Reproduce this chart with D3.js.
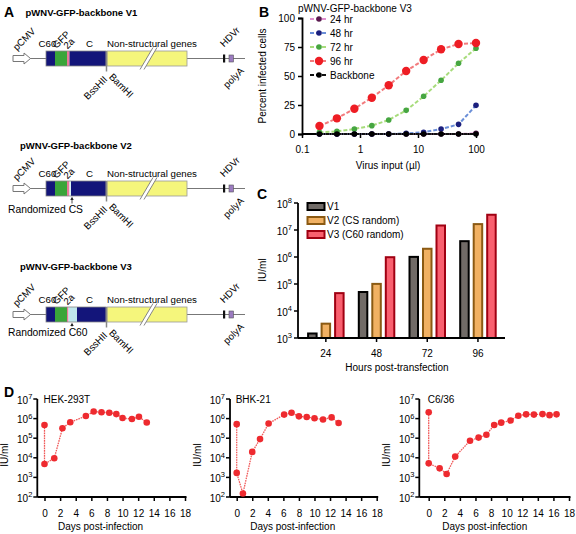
<!DOCTYPE html>
<html><head><meta charset="utf-8">
<script src="https://cdn.jsdelivr.net/npm/d3@7"></script>
<style>body{margin:0;background:#fff}svg{display:block;font-family:"Liberation Sans",Arial,sans-serif}</style>
</head><body>
<script>
// ---------- DATA ----------
// Panel B
const bDoses = [0.2, 0.4, 0.8, 1.6, 3.125, 6.25, 12.5, 25, 50, 100];
const b24 = [0, 0, 0, 0, 0, 0, 0, 0, 0, 0.6];
const b48 = [0, 0, 0, 0, 0, 0.5, 1.5, 4.3, 8.3, 24.7];
const b72 = [1.4, 2.3, 4.3, 7.2, 12.1, 20.4, 32.5, 46.3, 61, 73.9];
const b96 = [6.9, 13.5, 21.8, 31.3, 42, 54.3, 63.8, 73, 77.6, 78.4];
const bBackbone = [0, 0, 0, 0, 0, 0, 0, 0, 0, 0];
const bSeriesNames = ["24 hr", "48 hr", "72 hr", "96 hr", "Backbone"];
const bYTicks = [0, 25, 50, 75, 100];
const bXTicks = [0.1, 1, 10, 100];
// Panel C
const cHours = ["24", "48", "72", "96"];
const cSeriesNames = ["V1", "V2 (CS random)", "V3 (C60 random)"];
const cV1 = [1.6e3, 5.5e4, 1.1e6, 4.2e6];
const cV2 = [3.7e3, 1.1e5, 2.2e6, 1.8e7];
const cV3 = [5e4, 1.07e6, 1.6e7, 4e7];
const cYExp = [3, 4, 5, 6, 7, 8];
// Panel D
const dNames = ["HEK-293T", "BHK-21", "C6/36"];
const dHekDays = [0, 0, 1.25, 2.3, 3.3, 5.3, 6.3, 7.3, 8.3, 9.2, 10, 11.2, 12.1, 13.1];
const dHekVals = [4.7e5, 4.8e3, 9.5e3, 3.2e5, 6.5e5, 1.35e6, 2.3e6, 2.1e6, 2e6, 1.7e6, 1.07e6, 9.5e5, 1.25e6, 6.3e5];
const dBhkDays = [0, 0, 0.8, 2.0, 3.0, 4.1, 6.1, 7.05, 8.0, 9.0, 10.0, 11.1, 12.2, 13.1];
const dBhkVals = [5.2e5, 1.7e3, 1.5e2, 2e4, 9e4, 5.6e5, 1.6e6, 2e6, 1.3e6, 1.2e6, 1.05e6, 9e5, 1.15e6, 6e5];
const dC636Days = [0, 0, 1.4, 2.3, 3.4, 5.3, 6.4, 7.4, 8.4, 9.3, 10.5, 11.5, 12.5, 13.5, 14.6, 15.5, 16.4];
const dC636Vals = [2.1e6, 5.2e3, 2.9e3, 1.5e3, 1.15e4, 7.4e4, 1.07e5, 1.5e5, 4.7e5, 6.2e5, 8e5, 1.4e6, 1.65e6, 1.6e6, 1.7e6, 1.5e6, 1.65e6];
const dXTicks = [0, 2, 4, 6, 8, 10, 12, 14, 16, 18];
const dYExp = [2, 3, 4, 5, 6, 7];

// ---------- SETUP ----------
const W = 576, H = 534;
const svg = d3.select("body").append("svg").attr("width", W).attr("height", H);
svg.append("rect").attr("width", W).attr("height", H).attr("fill", "#fff");
const FS = 10;

function letter(t, x, y) {
  svg.append("text").attr("x", x).attr("y", y).attr("font-size", 14).attr("font-weight", "bold").text(t);
}
function powLabel(g, x, y, exp) {
  const t = g.append("text").attr("x", x).attr("y", y).attr("text-anchor", "end").attr("font-size", FS).attr("dy", "0.35em");
  t.append("tspan").text("10");
  t.append("tspan").attr("dy", -4.5).attr("font-size", 7.5).text(exp);
}

// ---------- PANEL A ----------
letter("A", 4, 17);
const titles = [["pWNV-GFP-backbone V1", 25.5, 16, 58.5, "V1"], ["pWNV-GFP-backbone V2", 20, 149, 188.5, "V2"], ["pWNV-GFP-backbone V3", 20, 270, 314.5, "V3"]];
titles.forEach(([t, tx, ty, y, kind]) => {
  svg.append("text").attr("x", tx).attr("y", ty).attr("font-size", 9.5).attr("font-weight", "bold").text(t);
  const g = svg.append("g");
  const hh = 7.5;
  const AF = 9.7;
  g.append("line").attr("x1", 30).attr("x2", 46).attr("y1", y).attr("y2", y).attr("stroke", "#777").attr("stroke-width", 1);
  g.append("line").attr("x1", 187).attr("x2", 245).attr("y1", y).attr("y2", y).attr("stroke", "#777").attr("stroke-width", 1);
  g.append("path").attr("d", `M13,${y-3}L24,${y-3}L24,${y-5.5}L30.5,${y}L24,${y+5.5}L24,${y+3}L13,${y+3}Z`)
    .attr("fill", "#fff").attr("stroke", "#777").attr("stroke-width", 1);
  const segs = [[46, 55, "#13157a"], [55, 67, "#3aa53a"]];
  if (kind === "V1") segs.push([67, 69.5, "#e9789a"], [69.5, 106, "#13157a"]);
  if (kind === "V2") segs.push([67, 69.5, "#e9789a"], [69.5, 71, "#d9f2f4"], [71, 106, "#13157a"]);
  if (kind === "V3") segs.push([67, 68.5, "#e9789a"], [68.5, 77, "#bfe7ec"], [77, 106, "#13157a"]);
  segs.forEach(([a, b, c]) => g.append("rect").attr("x", a).attr("y", y - hh).attr("width", b - a).attr("height", 2 * hh).attr("fill", c));
  g.append("rect").attr("x", 46).attr("y", y - hh).attr("width", 60).attr("height", 2 * hh).attr("fill", "none").attr("stroke", "#888").attr("stroke-width", 0.8);
  g.append("rect").attr("x", 107).attr("y", y - hh).attr("width", 80).attr("height", 2 * hh).attr("fill", "#f5f67c").attr("stroke", "#999").attr("stroke-width", 0.8);
  g.append("line").attr("x1", 106.5).attr("x2", 106.5).attr("y1", y - hh).attr("y2", y + 13).attr("stroke", "#888").attr("stroke-width", 1.5);
  // break marks
  g.append("line").attr("x1", 142).attr("y1", y + 11).attr("x2", 155).attr("y2", y - 11).attr("stroke", "#fff").attr("stroke-width", 3.5);
  g.append("line").attr("x1", 140).attr("y1", y + 11).attr("x2", 153).attr("y2", y - 11).attr("stroke", "#777").attr("stroke-width", 0.9);
  g.append("line").attr("x1", 144).attr("y1", y + 11).attr("x2", 157).attr("y2", y - 11).attr("stroke", "#777").attr("stroke-width", 0.9);
  g.append("rect").attr("x", 223).attr("y", y - 4).attr("width", 2.2).attr("height", 8).attr("fill", "#111");
  g.append("rect").attr("x", 229).attr("y", y - 3.5).attr("width", 4.5).attr("height", 7).attr("fill", "#9b7bc0").attr("stroke", "#555").attr("stroke-width", 0.6);
  const lab = (t, x, yy, rot, anchor) => g.append("text").attr("font-size", AF).attr("text-anchor", anchor || "start")
      .attr("transform", `translate(${x},${yy}) rotate(${rot || 0})`).text(t);
  lab("pCMV", 17, y - 7.5, -45);
  lab("C60", 38.5, y - 12);
  lab("GFP", 56.5, y - 9.5, -45);
  lab("2a", 67.5, y - 9, -45);
  lab("C", 86, y - 12);
  lab("Non-structural genes", 107, y - 12);
  lab("HDVr", 224, y - 11, -45);
  lab("BssHII", 108, y + 21.5, -45, "end");
  lab("BamHI", 108.5, y + 19, 45);
  lab("polyA", 244.5, y + 13, -45, "end");
  if (kind !== "V1") {
    const ly = kind === "V2" ? y + 24 : y + 21;
    lab(kind === "V2" ? "Randomized CS" : "Randomized C60", 8, ly).attr("font-size", 10.3);
    g.append("line").attr("x1", 72).attr("x2", 72).attr("y1", ly - 9).attr("y2", y + hh + 2).attr("stroke", "#222").attr("stroke-width", 0.8);
    g.append("path").attr("d", `M70.3,${y+hh+4}L72,${y+hh+0.8}L73.7,${y+hh+4}Z`).attr("fill", "#222");
  }
});

// ---------- PANEL B ----------
letter("B", 259, 17);
svg.append("text").attr("x", 298).attr("y", 12).attr("font-size", FS).text("pWNV-GFP-backbone V3");
const bx = d3.scaleLog().domain([0.1, 100]).range([302, 476]);
const by = d3.scaleLinear().domain([0, 100]).range([134, 18]);
const gB = svg.append("g");
gB.append("g").attr("transform", "translate(0,134)").call(d3.axisBottom(bx).tickValues(bXTicks).tickFormat(d3.format("~g")).tickSizeOuter(0).tickSize(4))
  .call(a => { a.select(".domain").attr("stroke-width", 1.8).attr("d", "M302,0H478"); a.selectAll("text").attr("font-size", FS).attr("font-family", null).attr("dy", "1.2em"); a.selectAll("line").attr("stroke-width", 1.5); });
gB.append("g").attr("transform", "translate(302,0)").call(d3.axisLeft(by).tickValues(bYTicks).tickSizeOuter(0).tickSize(4))
  .call(a => { a.select(".domain").attr("stroke-width", 1.8); a.selectAll("text").attr("font-size", FS).attr("font-family", null); a.selectAll("line").attr("stroke-width", 1.5); });
svg.append("text").attr("transform", "translate(266,76) rotate(-90)").attr("text-anchor", "middle").attr("font-size", FS).text("Percent infected cells");
svg.append("text").attr("x", 388).attr("y", 169).attr("text-anchor", "middle").attr("font-size", FS).text("Virus input (µl)");
const bSeries = [
  { name: bSeriesNames[0], vals: b24, line: "#e08fcf", dot: "#5a1a4f", r: 2.8 },
  { name: bSeriesNames[1], vals: b48, line: "#6b8fd8", dot: "#1b1f7d", r: 2.8 },
  { name: bSeriesNames[2], vals: b72, line: "#a8dc7c", dot: "#46a641", r: 2.8 },
  { name: bSeriesNames[3], vals: b96, line: "#f27b7d", dot: "#ee1d24", r: 4.2 },
  { name: bSeriesNames[4], vals: bBackbone, line: "#111", dot: "#000", r: 2.8 }
];
const bLine = d3.line().x(d => bx(d[0])).y(d => by(d[1]));
bSeries.forEach((s, i) => {
  const pts = bDoses.map((d, j) => [d, s.vals[j]]);
  gB.append("path").attr("d", bLine(pts)).attr("fill", "none").attr("stroke", s.line).attr("stroke-width", 2).attr("stroke-dasharray", "4,2");
  gB.selectAll(null).data(pts).join("circle").attr("cx", d => bx(d[0])).attr("cy", d => by(d[1])).attr("r", s.r).attr("fill", s.dot);
  const ly = 19 + i * 14;
  gB.append("line").attr("x1", 310).attr("x2", 327).attr("y1", ly).attr("y2", ly).attr("stroke", s.line).attr("stroke-width", 2).attr("stroke-dasharray", "4,2");
  gB.append("circle").attr("cx", 319).attr("cy", ly).attr("r", s.r).attr("fill", s.dot);
  gB.append("text").attr("x", 330).attr("y", ly).attr("dy", "0.35em").attr("font-size", FS).text(s.name);
});

// ---------- PANEL C ----------
letter("C", 257, 199);
const cx0 = d3.scaleBand().domain(cHours).range([300.5, 503.3]);
const cx1 = d3.scaleBand().domain(cSeriesNames).range([-18.75, 18.75]).paddingInner(0.222);
const cy = d3.scaleLog().domain([1e3, 1e8]).range([338, 203]);
const cStyles = [{ fill: "#716b67", stroke: "#000" }, { fill: "#f1b163", stroke: "#8b5a13" }, { fill: "#f9606f", stroke: "#a00012" }];
const cData = [cV1, cV2, cV3];
const gC = svg.append("g");
cHours.forEach((h, i) => {
  const c = cx0(h) + cx0.bandwidth() / 2;
  cSeriesNames.forEach((s, k) => {
    const v = cData[k][i];
    const x = c + cx1(s);
    gC.append("rect").attr("x", x + 1).attr("width", cx1.bandwidth() - 2).attr("y", cy(v) + 1).attr("height", cy(1e3) - cy(v) - 1)
      .attr("fill", cStyles[k].fill).attr("stroke", cStyles[k].stroke).attr("stroke-width", 2);
  });
});
gC.append("g").attr("transform", "translate(0,338)").call(d3.axisBottom(cx0).tickSize(4).tickSizeOuter(0))
  .call(a => { a.select(".domain").attr("stroke-width", 1.8).attr("d", "M298,0H505"); a.selectAll("text").attr("font-size", FS).attr("font-family", null).attr("dy", "1.2em"); a.selectAll("line").attr("stroke-width", 1.5); });
gC.append("line").attr("x1", 298).attr("x2", 298).attr("y1", cy(1e8)).attr("y2", cy(1e3)).attr("stroke", "#000").attr("stroke-width", 1.8);
cYExp.forEach(e => {
  gC.append("line").attr("x1", 294).attr("x2", 298).attr("y1", cy(Math.pow(10, e))).attr("y2", cy(Math.pow(10, e))).attr("stroke", "#000").attr("stroke-width", 1.5);
  powLabel(gC, 292, cy(Math.pow(10, e)) + 1, e);
});
svg.append("text").attr("transform", "translate(266,270) rotate(-90)").attr("text-anchor", "middle").attr("font-size", FS).text("IU/ml");
svg.append("text").attr("x", 397).attr("y", 371).attr("text-anchor", "middle").attr("font-size", FS).text("Hours post-transfection");
cSeriesNames.forEach((s, k) => {
  const ly = 203 + k * 14;
  gC.append("rect").attr("x", 307.5).attr("y", ly).attr("width", 17).attr("height", 7).attr("fill", cStyles[k].fill).attr("stroke", cStyles[k].stroke).attr("stroke-width", 2);
  gC.append("text").attr("x", 327).attr("y", ly + 3.8).attr("dy", "0.35em").attr("font-size", FS).text(s);
});

// ---------- PANEL D ----------
letter("D", 4, 397);
const dPanels = [
  { name: dNames[0], days: dHekDays, vals: dHekVals, axisX: 37.3, x0: 44.5, x18: 185 },
  { name: dNames[1], days: dBhkDays, vals: dBhkVals, axisX: 230, x0: 236.7, x18: 376.7 },
  { name: dNames[2], days: dC636Days, vals: dC636Vals, axisX: 419.3, x0: 428.7, x18: 569 }
];
const dy = d3.scaleLog().domain([1e2, 1e7]).range([497, 399]);
dPanels.forEach(p => {
  const g = svg.append("g");
  const x = d3.scaleLinear().domain([0, 18]).range([p.x0, p.x18]);
  g.append("g").attr("transform", "translate(0,497)").call(d3.axisBottom(x).tickValues(dXTicks).tickSize(4).tickSizeOuter(0))
    .call(a => { a.select(".domain").attr("stroke-width", 1.8).attr("d", `M${p.axisX},0H${p.x18 + 1.5}`); a.selectAll("text").attr("font-size", FS).attr("font-family", null).attr("dy", "1.25em"); a.selectAll("line").attr("stroke-width", 1.5); });
  g.append("line").attr("x1", p.axisX).attr("x2", p.axisX).attr("y1", dy(1e7)).attr("y2", dy(1e2)).attr("stroke", "#000").attr("stroke-width", 1.8);
  dYExp.forEach(e => {
    g.append("line").attr("x1", p.axisX - 4).attr("x2", p.axisX).attr("y1", dy(Math.pow(10, e))).attr("y2", dy(Math.pow(10, e))).attr("stroke", "#000").attr("stroke-width", 1.5);
    powLabel(g, p.axisX - 5, dy(Math.pow(10, e)) + 1, e);
  });
  g.append("text").attr("x", p.x0 - 1).attr("y", 403).attr("font-size", FS).text(p.name);
  g.append("text").attr("transform", `translate(${p.axisX - 29},455) rotate(-90)`).attr("text-anchor", "middle").attr("font-size", FS).text("IU/ml");
  g.append("text").attr("x", p.x0 + 56).attr("y", 530).attr("text-anchor", "middle").attr("font-size", FS).text("Days post-infection");
  const pts = p.days.map((d, j) => [d, p.vals[j]]);
  g.append("path").attr("d", d3.line().x(d => x(d[0])).y(d => dy(d[1]))(pts)).attr("fill", "none").attr("stroke", "#f05a5a").attr("stroke-width", 1.3).attr("stroke-dasharray", "1.6,0.9");
  g.selectAll(null).data(pts).join("circle").attr("cx", d => x(d[0])).attr("cy", d => dy(d[1])).attr("r", 3.3).attr("fill", "#ee2a2f");
});
</script>
</body></html>
